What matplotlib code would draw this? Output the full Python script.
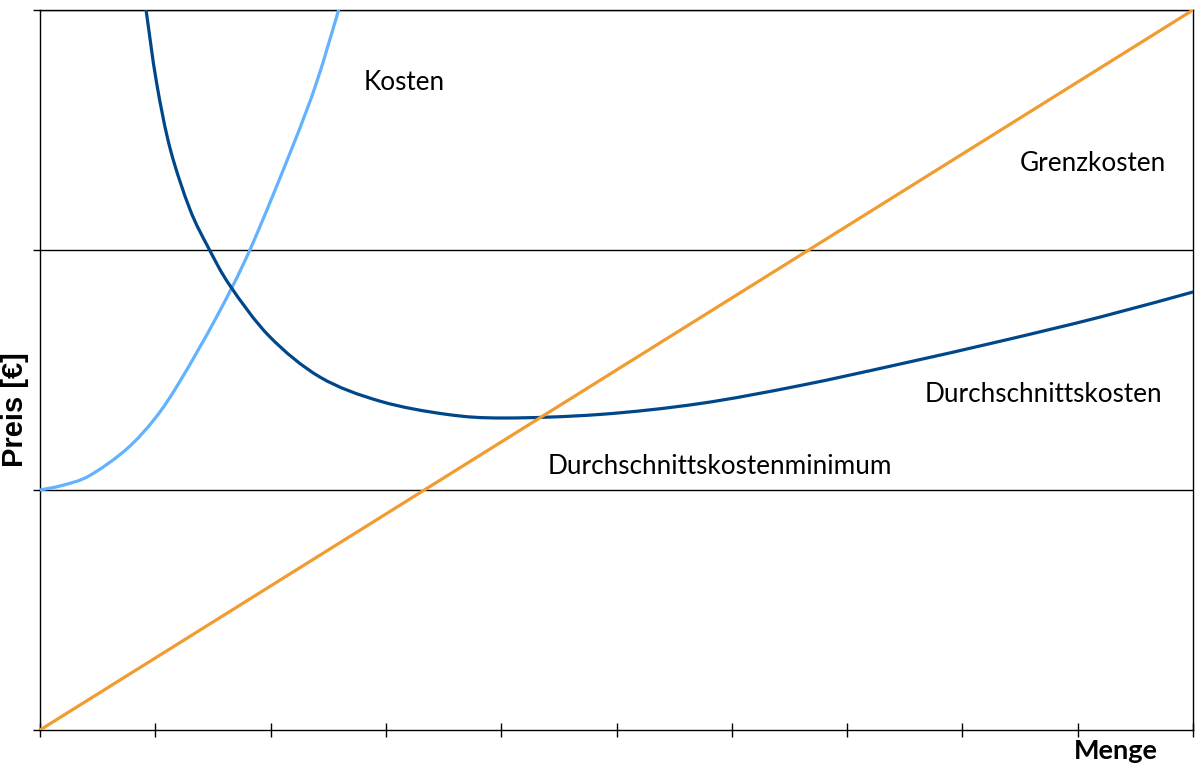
import matplotlib
matplotlib.use("Agg")
import matplotlib.pyplot as plt
from matplotlib.path import Path
from matplotlib.patches import PathPatch

# Werte (Menge 0..10, Preis 0..3)
kosten_x = [0, 0.2, 0.43, 0.75, 1.0, 1.21, 1.53, 1.82, 2.19, 2.40, 2.59]
kosten_y = [1.0, 1.02, 1.06, 1.17, 1.30, 1.45, 1.72, 2.00, 2.43, 2.70, 3.0]

dk_x = [0.92, 1.01, 1.13, 1.30, 1.46, 1.65, 1.99, 2.43, 2.95, 3.53, 4.03,
        4.86, 5.72, 6.59, 7.46, 8.33, 9.19, 10]
dk_y = [3.0, 2.70, 2.42, 2.17, 2.01, 1.85, 1.64, 1.47, 1.37, 1.315, 1.30,
        1.315, 1.36, 1.435, 1.525, 1.62, 1.72, 1.825]

grenz_x = [0, 10]
grenz_y = [0, 3]

x_ticks = list(range(0, 11))
y_ticks = [0, 1, 2, 3]


def smooth_path(xs, ys):
    # geglaettete Linie wie in Excel: Bezier-Segmente durch die Punkte
    pts = list(zip(xs, ys))
    verts = [pts[0]]
    codes = [Path.MOVETO]
    n = len(pts)
    for i in range(n - 1):
        p0 = pts[i - 1] if i > 0 else pts[i]
        p1 = pts[i]
        p2 = pts[i + 1]
        p3 = pts[i + 2] if i + 2 < n else pts[i + 1]
        c1 = (p1[0] + (p2[0] - p0[0]) / 6, p1[1] + (p2[1] - p0[1]) / 6)
        c2 = (p2[0] - (p3[0] - p1[0]) / 6, p2[1] - (p3[1] - p1[1]) / 6)
        verts += [c1, c2, p2]
        codes += [Path.CURVE4] * 3
    return Path(verts, codes)


fig = plt.figure(figsize=(12.01, 7.69), dpi=100)
ax = fig.add_axes([40 / 1201, 1 - 730 / 769, 1153 / 1201, 720 / 769])

for xs, ys, col in [(kosten_x, kosten_y, "#63B2FF"), (dk_x, dk_y, "#00478A")]:
    ax.add_patch(PathPatch(smooth_path(xs, ys), facecolor="none", edgecolor=col,
                           lw=2.3, capstyle="round", zorder=3))
ax.plot(grenz_x, grenz_y, color="#F29B30", lw=2.3, solid_capstyle="round", zorder=3)

for g in y_ticks[1:]:
    ax.axhline(g, color="black", lw=1.0, zorder=1)

ax.set_xlim(0, 10)
ax.set_ylim(0, 3)
ax.set_xticks(x_ticks)
ax.set_yticks(y_ticks)
ax.set_xticklabels([])
ax.set_yticklabels([])
ax.tick_params(axis="x", direction="inout", length=10, width=1)
ax.tick_params(axis="y", direction="out", length=5, width=1)
for s in ax.spines.values():
    s.set_color("black")
    s.set_linewidth(1.0)

font = "Lato"
fs = 18.8
ax.text(2.81, 2.70, "Kosten", fontsize=fs, family=font, va="center")
ax.text(8.50, 2.36, "Grenzkosten", fontsize=fs, family=font, va="center")
ax.text(7.67, 1.40, "Durchschnittskosten", fontsize=fs, family=font, va="center")
ax.text(4.40, 1.10, "Durchschnittskostenminimum", fontsize=fs, family=font, va="center")

fig.text(15 / 1201, 1 - 410 / 769, "Preis [€]", rotation=90, fontsize=21,
         fontweight="bold", family="Liberation Sans", ha="center", va="center")
fig.text(1116 / 1201, 1 - 751 / 769, "Menge", fontsize=19.5, fontweight="bold",
         family=font, ha="center", va="center")

fig.savefig("out.png", dpi=100)
